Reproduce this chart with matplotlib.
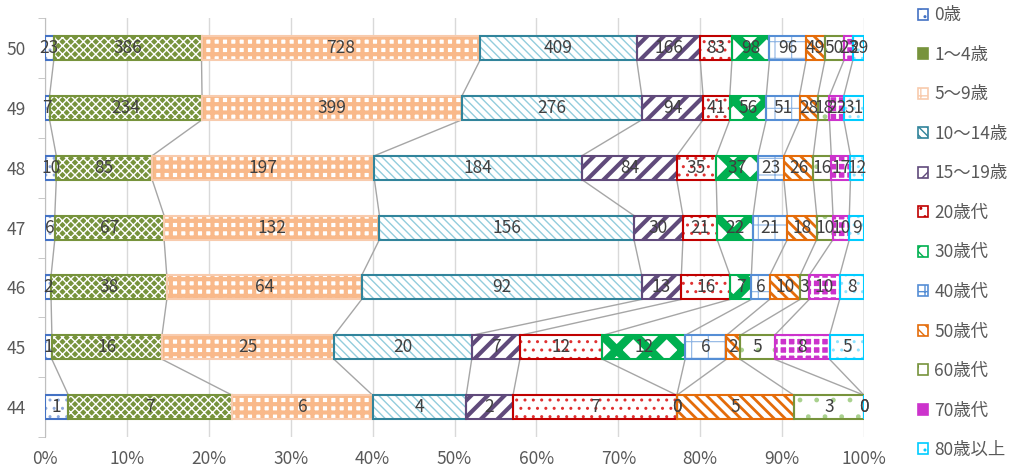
import numpy as np
import matplotlib
matplotlib.use("Agg")
import matplotlib.pyplot as plt
from matplotlib.patches import Patch

plt.rcParams['font.family'] = ['Noto Sans CJK JP', 'DejaVu Sans']

years = ['50', '49', '48', '47', '46', '45', '44']
ages = ['0歳', '1～4歳', '5～9歳', '10～14歳', '15～19歳', '20歳代',
        '30歳代', '40歳代', '50歳代', '60歳代', '70歳代', '80歳以上']

# counts per age group, one row per year (top to bottom)
counts = [
    [23, 386, 728, 409, 166, 83, 98, 96, 49, 50, 23, 29],
    [7, 234, 399, 276, 94, 41, 56, 51, 28, 18, 22, 31],
    [10, 85, 197, 184, 84, 35, 37, 23, 26, 16, 17, 12],
    [6, 67, 132, 156, 30, 21, 22, 21, 18, 10, 10, 9],
    [2, 38, 64, 92, 13, 16, 7, 6, 10, 3, 10, 8],
    [1, 16, 25, 20, 7, 12, 12, 6, 2, 5, 8, 5],
    [1, 7, 6, 4, 2, 7, 0, 0, 5, 3, 0, 0],
]

# (outline, face, hatch colour, hatch, hatch width)
styles = [
    ('#4472C4', 'white', '#8FAADC', '..', 1.0),
    ('#77933C', '#77933C', 'white', 'xxxx', 1.0),
    ('#F8CBAD', 'white', '#F9B98A', '++', 3.0),
    ('#31849B', 'white', '#92CDDC', '\\\\\\\\', 1.0),
    ('#604A7B', 'white', '#604A7B', '//', 3.0),
    ('#C00000', 'white', '#E03030', '..', 1.0),
    ('#00B050', 'white', '#00B050', 'x', 6.0),
    ('#558ED5', 'white', '#8EB4E3', '+', 0.8),
    ('#E46C0A', 'white', '#E46C0A', '\\\\\\', 2.0),
    ('#77933C', 'white', '#A9D18E', '.', 1.0),
    ('#CC33CC', '#CC33CC', 'white', '++', 2.0),
    ('#00CCFF', 'white', '#8FE3FF', '..', 1.0),
]

data = np.array(counts, dtype=float)
pct = data / data.sum(axis=1, keepdims=True) * 100
cum = np.cumsum(pct, axis=1)
left = cum - pct
y = np.arange(len(years))
h = 0.4

fig = plt.figure(figsize=(10.09, 4.68), dpi=100)
ax = fig.add_axes([0.0446, 0.066, 0.8117, 0.8955])

for j, (ec, fc, hc, hatch, hw) in enumerate(styles):
    with plt.rc_context({'hatch.linewidth': hw}):
        fills = ax.barh(y, pct[:, j], left=left[:, j], height=h, color=fc,
                        edgecolor=hc, hatch=hatch, linewidth=0, zorder=2)
        for p in fills:
            try:
                p.set_hatch_linewidth(hw)
            except AttributeError:
                pass
    ax.barh(y, pct[:, j], left=left[:, j], height=h, facecolor='none',
            edgecolor=ec, linewidth=1.5, zorder=3)
    for i in range(len(years)):
        ax.text(left[i, j] + pct[i, j] / 2, y[i], str(counts[i][j]),
                ha='center', va='center', fontsize=12.5, color='#404040', zorder=5)

# series lines between neighbouring bars
for j in range(len(ages)):
    for i in range(len(years) - 1):
        ax.plot([cum[i, j], cum[i + 1, j]], [y[i] + h / 2, y[i + 1] - h / 2],
                color='#A6A6A6', linewidth=1, zorder=1)

ax.set_xlim(0, 100)
ax.set_ylim(len(years) - 0.5, -0.5)
ax.set_xticks(np.arange(0, 101, 10))
ax.set_xticklabels([f'{v}%' for v in range(0, 101, 10)])
ax.set_yticks(y)
ax.set_yticklabels(years)
ax.set_yticks(np.arange(-0.5, len(years), 1), minor=True)
ax.tick_params(axis='y', which='major', length=0, pad=14, labelsize=12.5, labelcolor='#595959')
ax.tick_params(axis='y', which='minor', length=5, color='#BFBFBF')
ax.tick_params(axis='x', length=0, pad=9, labelsize=12.5, labelcolor='#595959')
ax.grid(axis='x', color='#D9D9D9', linewidth=1, zorder=0)
ax.set_axisbelow(True)
for s in ['top', 'right', 'bottom']:
    ax.spines[s].set_visible(False)
ax.spines['left'].set_color('#BFBFBF')

handles = []
for ec, fc, hc, hatch, hw in styles:
    handles.append(Patch(facecolor=fc, edgecolor=ec, hatch=hatch, linewidth=1.2))
fig.legend(handles, ages, loc='upper left', bbox_to_anchor=(0.894, 1.02),
           frameon=False, fontsize=12.5, handlelength=0.6, handleheight=0.6,
           handletextpad=0.35, labelspacing=1.24, labelcolor='#595959')

fig.savefig('out.png', dpi=100)
